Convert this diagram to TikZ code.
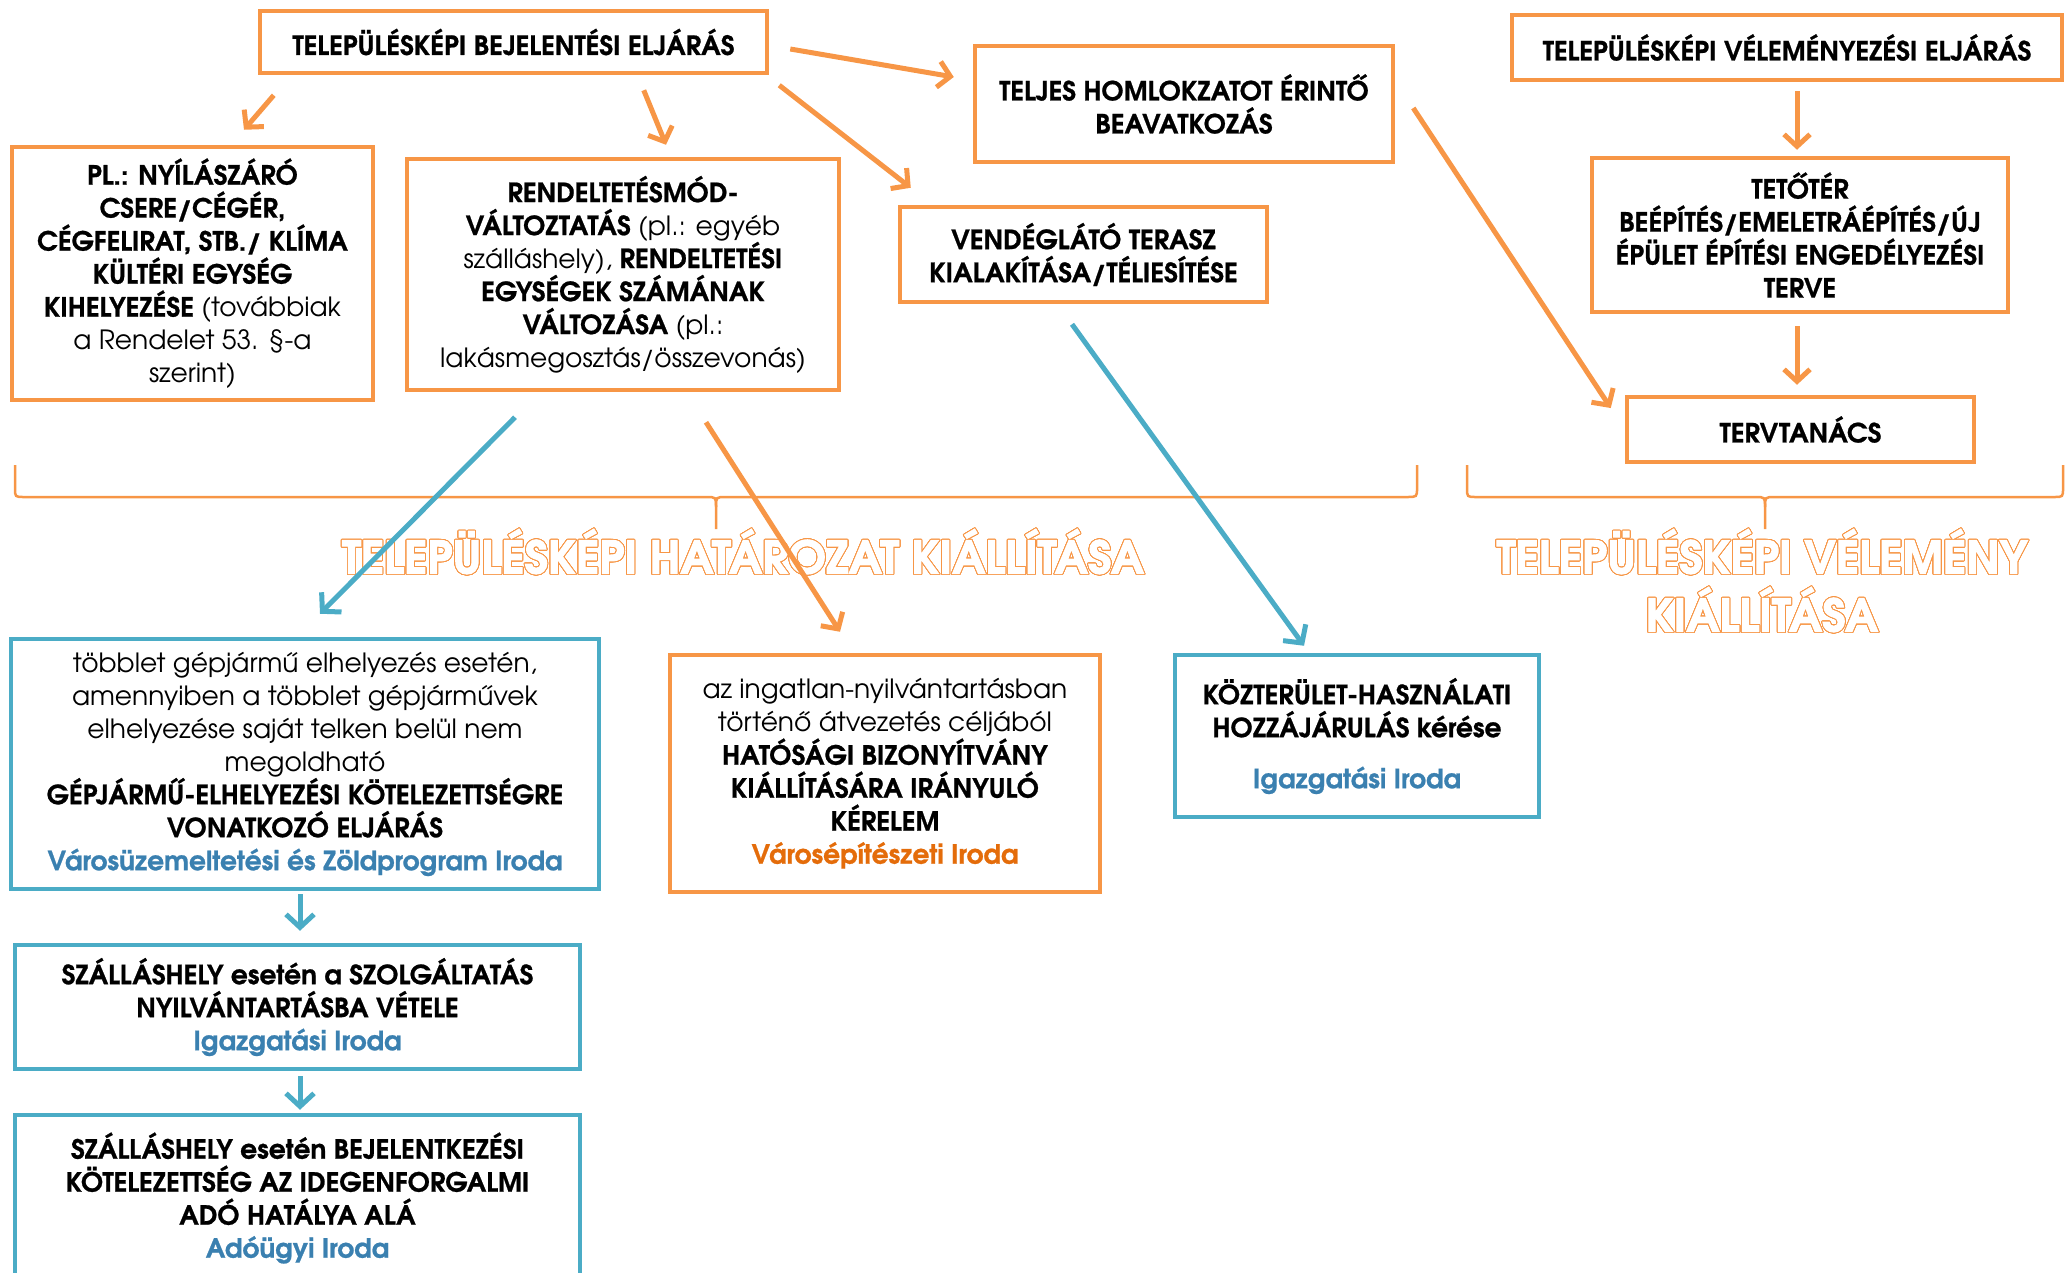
\documentclass[tikz,border=0pt]{standalone}
\usepackage{fontspec}
\setmainfont{texgyreadventor}[Extension=.otf, UprightFont=*-regular, BoldFont=*-bold, ItalicFont=*-italic, BoldItalicFont=*-bolditalic, BoldFeatures={FakeBold=0.8}]
\newfontfamily\bracefont{texgyreadventor}[Extension=.otf, UprightFont=*-bold, FakeBold=2.2]
\usepackage[copies]{contour}
\usetikzlibrary{arrows.meta}

\definecolor{boxorange}{HTML}{F79646}
\definecolor{boxblue}{HTML}{4BACC6}
\definecolor{officeblue}{HTML}{3A80B0}
\definecolor{officeorange}{HTML}{E46C0A}
\contourlength{0.9pt}
\contournumber{32}
\newcommand{\outlinetext}[1]{\textcolor{white}{\contour{boxorange}{#1}}}

\tikzset{
  orangebox/.style={draw=boxorange, line width=4.5pt, fill=white, align=center, inner sep=0pt, font=\fontsize{26.5}{33}\selectfont},
  bluebox/.style={orangebox, draw=boxblue},
  orangearrow/.style={draw=boxorange, line width=5pt, -{Straight Barb[length=12pt,width=26pt]}},
  bluearrow/.style={draw=boxblue, line width=5pt, -{Straight Barb[length=13pt,width=28pt]}},
  bracket/.style={draw=boxorange, line width=2.5pt},
  bracelabel/.style={align=center, inner sep=0pt, font=\fontsize{45}{58}\bracefont}
}

\begin{document}
\begin{tikzpicture}[x=1pt, y=-1pt]
  \useasboundingbox (0,0) rectangle (2071,1272);
  \clip (0,0) rectangle (2071,1272);

  % Bejelentesi eljaras
  \node[orangebox, minimum width=507, minimum height=62] (bejelentes) at (513.5,42) {\textbf{TELEPÜLÉSKÉPI BEJELENTÉSI ELJÁRÁS}};
  \node[orangebox, minimum width=361, minimum height=253] (nyilaszaro) at (192.5,273.5)
    {\textbf{PL.: NYÍLÁSZÁRÓ}\\ \textbf{CSERE/CÉGÉR,}\\ \textbf{CÉGFELIRAT, STB./ KLÍMA}\\ \textbf{KÜLTÉRI EGYSÉG}\\ \textbf{KIHELYEZÉSE} (továbbiak\\ a Rendelet 53. §-a\\ szerint)};
  \node[orangebox, minimum width=432, minimum height=231] (rendeltetes) at (623,274.5)
    {\textbf{RENDELTETÉSMÓD-}\\ \textbf{VÁLTOZTATÁS} (pl.: egyéb\\ szálláshely), \textbf{RENDELTETÉSI}\\ \textbf{EGYSÉGEK SZÁMÁNAK}\\ \textbf{VÁLTOZÁSA} (pl.:\\ lakásmegosztás/összevonás)};
  \node[orangebox, minimum width=418, minimum height=116] (homlokzat) at (1184,104)
    {\textbf{TELJES HOMLOKZATOT ÉRINTŐ}\\ \textbf{BEAVATKOZÁS}};
  \node[orangebox, minimum width=367, minimum height=95] (terasz) at (1083.5,254.5)
    {\textbf{VENDÉGLÁTÓ TERASZ}\\ \textbf{KIALAKÍTÁSA/TÉLIESÍTÉSE}};

  % Velemenyezesi eljaras
  \node[orangebox, minimum width=550, minimum height=65] (velemenyezes) at (1787,47.5) {\textbf{TELEPÜLÉSKÉPI VÉLEMÉNYEZÉSI ELJÁRÁS}};
  \node[orangebox, minimum width=416, minimum height=154] (tetoter) at (1800,235)
    {\textbf{TETŐTÉR}\\ \textbf{BEÉPÍTÉS/EMELETRÁÉPÍTÉS/ÚJ}\\ \textbf{ÉPÜLET ÉPÍTÉSI ENGEDÉLYEZÉSI}\\ \textbf{TERVE}};
  \node[orangebox, minimum width=347, minimum height=65] (tervtanacs) at (1800.5,429.5) {\textbf{TERVTANÁCS}};

  % Braces
  \draw[bracket] (15,465) -- (15,488) .. controls (15,497) .. (24,497) -- (706,497) .. controls (716,497) .. (716,507) -- (716,529);
  \draw[bracket] (716,507) .. controls (716,497) .. (726,497) -- (1407,497) .. controls (1417,497) .. (1417,488) -- (1417,465);
  \draw[bracket] (1467,465) -- (1467,488) .. controls (1467,497) .. (1476,497) -- (1755,497) .. controls (1765,497) .. (1765,507) -- (1765,529);
  \draw[bracket] (1765,507) .. controls (1765,497) .. (1775,497) -- (2054,497) .. controls (2063,497) .. (2063,488) -- (2063,465);
  \node[bracelabel] (hatarozat) at (743,552) {\outlinetext{TELEPÜLÉSKÉPI HATÁROZAT KIÁLLÍTÁSA}};
  \node[bracelabel] (velemeny) at (1762,581) {\outlinetext{TELEPÜLÉSKÉPI VÉLEMÉNY}\\ \outlinetext{KIÁLLÍTÁSA}};

  % Follow-up procedures
  \node[bluebox, minimum width=588, minimum height=250] (gepjarmu) at (305,764)
    {többlet gépjármű elhelyezés esetén,\\ amennyiben a többlet gépjárművek\\ elhelyezése saját telken belül nem\\ megoldható\\
     \textbf{GÉPJÁRMŰ-ELHELYEZÉSI KÖTELEZETTSÉGRE}\\ \textbf{VONATKOZÓ ELJÁRÁS}\\ \textcolor{officeblue}{\textbf{Városüzemeltetési és Zöldprogram Iroda}}};
  \node[orangebox, minimum width=430, minimum height=237] (bizonyitvany) at (885,773.5)
    {az ingatlan-nyilvántartásban\\ történő átvezetés céljából\\ \textbf{HATÓSÁGI BIZONYÍTVÁNY}\\ \textbf{KIÁLLÍTÁSÁRA IRÁNYULÓ}\\ \textbf{KÉRELEM}\\ \textcolor{officeorange}{\textbf{Városépítészeti Iroda}}};
  \node[bluebox, minimum width=364, minimum height=162] (kozterulet) at (1357,736)
    {\textbf{KÖZTERÜLET-HASZNÁLATI}\\ \textbf{HOZZÁJÁRULÁS kérése}\\[18pt] \textcolor{officeblue}{\textbf{Igazgatási Iroda}}};
  \node[bluebox, minimum width=565, minimum height=124] (szolgaltatas) at (297.5,1007)
    {\textbf{SZÁLLÁSHELY esetén a SZOLGÁLTATÁS}\\ \textbf{NYILVÁNTARTÁSBA VÉTELE}\\ \textcolor{officeblue}{\textbf{Igazgatási Iroda}}};
  \node[bluebox, minimum width=565, minimum height=166] (adougy) at (297.5,1198)
    {\textbf{SZÁLLÁSHELY esetén BEJELENTKEZÉSI}\\ \textbf{KÖTELEZETTSÉG AZ IDEGENFORGALMI}\\ \textbf{ADÓ HATÁLYA ALÁ}\\ \textcolor{officeblue}{\textbf{Adóügyi Iroda}}};

  % Orange arrows
  \draw[orangearrow] ([shift={(16,20)}]bejelentes.south west) -- ([shift={(51.5,-15)}]nyilaszaro.north);
  \draw[orangearrow] ([shift={(386,15)}]bejelentes.south west) -- ([shift={(43,-12)}]rendeltetes.north);
  \draw[orangearrow] ([shift={(21,7)}]bejelentes.east) -- ([shift={(-19,-27)}]homlokzat.west);
  \draw[orangearrow] ([shift={(10,10)}]bejelentes.south east) -- ([shift={(13,-17)}]terasz.north west);
  \draw[orangearrow] ([shift={(18,4)}]homlokzat.east) -- ([shift={(-14,-21.5)}]tervtanacs.west);
  \draw[orangearrow] ([shift={(10,9)}]velemenyezes.south) -- ([shift={(-3,-6)}]tetoter.north);
  \draw[orangearrow] ([shift={(-3,12)}]tetoter.south) -- ([shift={(-3.5,-10)}]tervtanacs.north);
  \draw[orangearrow] ([shift={(83,30)}]rendeltetes.south) -- ([shift={(-45,-21)}]bizonyitvany.north);

  % Blue arrows
  \draw[bluearrow] ([shift={(-108,25)}]rendeltetes.south) -- ([shift={(15,-23)}]gepjarmu.north);
  \draw[bluearrow] ([shift={(-11.5,20)}]terasz.south) -- ([shift={(-53,-7)}]kozterulet.north);
  \draw[bluearrow] ([shift={(-5,3)}]gepjarmu.south) -- ([shift={(2.5,-12)}]szolgaltatas.north);
  \draw[bluearrow] ([shift={(2.5,5)}]szolgaltatas.south) -- ([shift={(2.5,-3)}]adougy.north);
\end{tikzpicture}
\end{document}
